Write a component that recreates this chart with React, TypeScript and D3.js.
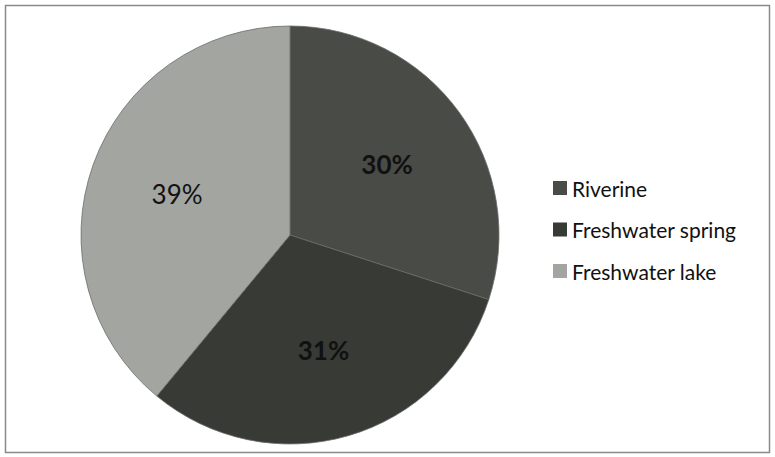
import React from "react";
import * as d3 from "d3";

const categories = ["Riverine", "Freshwater spring", "Freshwater lake"];
const shares = [30, 31, 39];
const sliceColors = ["#494b46", "#383a35", "#a3a5a0"];
const labelColors = ["#111", "#111", "#111"];

const width = 775;
const height = 457;

const App: React.FC = () => {
  const cx = 290;
  const cy = 235;
  const radius = 209;

  const pie = d3
    .pie<number>()
    .value((d) => d)
    .sort(null);
  const arcs = pie(shares);

  const arc = d3
    .arc<d3.PieArcDatum<number>>()
    .innerRadius(0)
    .outerRadius(radius);

  // labels sit a bit over half way out, like the Excel default
  const labelArc = d3
    .arc<d3.PieArcDatum<number>>()
    .innerRadius(235)
    .outerRadius(5);

  const legendY = d3
    .scalePoint<string>()
    .domain(categories)
    .range([188, 271]);

  return (
    <svg
      width={width}
      height={height}
      style={{ position: "absolute", left: 0, top: 0 }}
      fontFamily="Lato, 'Open Sans', sans-serif"
    >
      <rect x={0} y={0} width={width} height={height} fill="#fff" />
      <rect
        x={5.5}
        y={5.5}
        width={764}
        height={447}
        fill="none"
        stroke="#8a8a8a"
        strokeWidth={1.5}
      />
      <g transform={`translate(${cx},${cy})`}>
        {arcs.map((a, i) => (
          <path
            key={categories[i]}
            d={arc(a) || ""}
            fill={sliceColors[i]}
            stroke="#6a6c68"
            strokeWidth={0.8}
          />
        ))}
        {arcs.map((a, i) => {
          const [x, y] = labelArc.centroid(a);
          return (
            <text
              key={`l-${categories[i]}`}
              x={x}
              y={y}
              textAnchor="middle"
              dominantBaseline="central"
              fontSize={26}
              fontWeight={i < 2 ? 700 : 400}
              fill={labelColors[i]}
            >
              {`${shares[i]}%`}
            </text>
          );
        })}
      </g>
      <g>
        {categories.map((c, i) => (
          <g key={c} transform={`translate(553,${legendY(c)})`}>
            <rect x={0} y={-7} width={14} height={14} fill={sliceColors[i]} />
            <text
              x={19}
              y={0}
              dominantBaseline="central"
              fontSize={21}
              fill="#111"
            >
              {c}
            </text>
          </g>
        ))}
      </g>
    </svg>
  );
};

export default App;
